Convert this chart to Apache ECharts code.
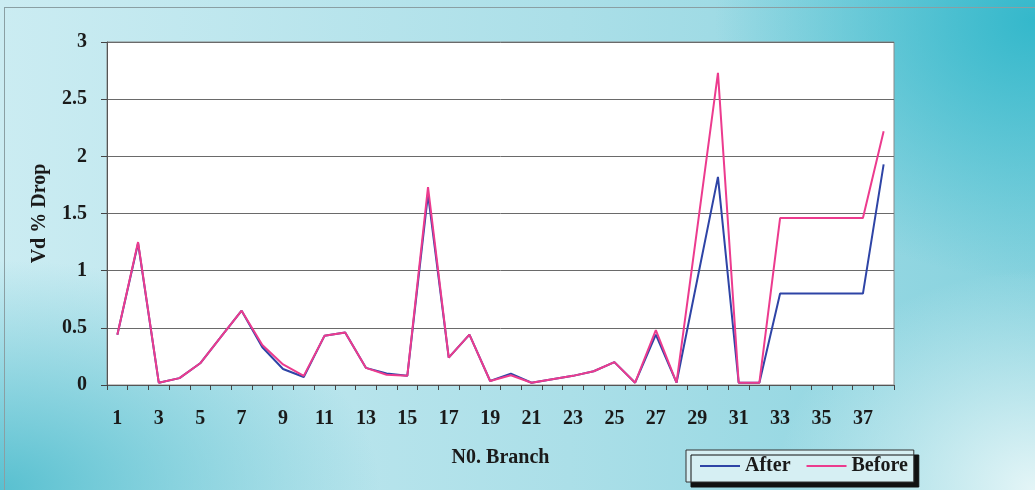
<!DOCTYPE html>
<html>
<head>
<meta charset="utf-8">
<script src="https://cdn.jsdelivr.net/npm/echarts@6/dist/echarts.min.js"></script>
<style>
  html, body { margin: 0; padding: 0; }
  body {
    width: 1035px; height: 490px; overflow: hidden; position: relative;
    background:
      radial-gradient(ellipse 320px 260px at 1035px 20px, rgba(52,184,203,1), rgba(52,184,203,0)),
      radial-gradient(ellipse 380px 230px at 0px 490px, rgba(88,192,208,1), rgba(88,192,208,0)),
      radial-gradient(ellipse 260px 220px at 1035px 490px, rgba(228,245,247,1), rgba(228,245,247,0)),
      linear-gradient(to right, #cbecf2 0%, #abdfe8 55%, #86d2de 100%);
  }
  #frame { position: absolute; left: 4px; top: 7px; width: 1040px; height: 500px; border: 1px solid #8a9fa3; box-sizing: border-box; }
  #chart { position: absolute; left: 0; top: 0; width: 1035px; height: 490px; }
</style>
</head>
<body>
<div id="frame"></div>
<div id="chart"></div>
<script>
const categories = ['1','2','3','4','5','6','7','8','9','10','11','12','13','14','15','16','17','18','19','20',
  '21','22','23','24','25','26','27','28','29','30','31','32','33','34','35','36','37','38'];
const afterValues = [0.44,1.24,0.02,0.06,0.19,0.42,0.65,0.33,0.14,0.07,0.43,0.46,0.15,0.10,0.08,1.67,0.24,0.44,0.035,0.10,
  0.02,0.05,0.08,0.12,0.20,0.02,0.44,0.02,0.92,1.82,0.02,0.02,0.80,0.80,0.80,0.80,0.80,1.93];
const beforeValues = [0.44,1.25,0.02,0.06,0.19,0.42,0.65,0.35,0.18,0.08,0.43,0.46,0.15,0.09,0.08,1.73,0.24,0.44,0.035,0.085,
  0.02,0.05,0.08,0.12,0.20,0.02,0.48,0.02,1.37,2.73,0.02,0.02,1.46,1.46,1.46,1.46,1.46,2.22];
const seriesNames = ['After', 'Before'];
const xAxisTitle = 'N0. Branch';
const yAxisTitle = 'Vd % Drop';

const font = "'Liberation Serif', 'Times New Roman', serif";
const chart = echarts.init(document.getElementById('chart'), null, { renderer: 'canvas' });
chart.setOption({
  backgroundColor: 'transparent',
  animation: false,
  grid: {
    left: 107, right: 141, top: 42, bottom: 105,
    show: true, backgroundColor: '#ffffff', borderColor: '#8a8a8a', borderWidth: 1
  },
  legend: {
    data: seriesNames,
    left: 686, top: 450,
    orient: 'horizontal',
    icon: 'rect',
    itemWidth: 40, itemHeight: 2, itemGap: 16,
    padding: [6, 6, 6, 14],
    backgroundColor: '#d6eff3',
    borderColor: '#333', borderWidth: 1,
    shadowColor: '#111', shadowBlur: 0, shadowOffsetX: 5, shadowOffsetY: 5,
    textStyle: { fontFamily: font, fontSize: 20, fontWeight: 'bold', color: '#1a1a1a' }
  },
  xAxis: {
    type: 'category',
    data: categories,
    boundaryGap: true,
    name: xAxisTitle,
    nameLocation: 'middle',
    nameGap: 63,
    nameTextStyle: { fontFamily: font, fontSize: 20, fontWeight: 'bold', color: '#1a1a1a' },
    axisLine: { lineStyle: { color: '#555', width: 1 } },
    axisTick: { show: true, interval: 0, length: 5, lineStyle: { color: '#444' } },
    axisLabel: { interval: 1, margin: 24, fontFamily: font, fontSize: 20, fontWeight: 'bold', color: '#1a1a1a' },
    splitLine: { show: false }
  },
  yAxis: {
    type: 'value',
    min: 0, max: 3, interval: 0.5,
    name: yAxisTitle,
    nameLocation: 'middle',
    nameRotate: 90,
    nameGap: 57,
    nameTextStyle: { fontFamily: font, fontSize: 20, fontWeight: 'bold', color: '#1a1a1a' },
    axisLine: { show: true, lineStyle: { color: '#555', width: 1 } },
    axisTick: { show: true, length: 6, lineStyle: { color: '#444' } },
    axisLabel: { margin: 20, fontFamily: font, fontSize: 20, fontWeight: 'bold', color: '#1a1a1a' },
    splitLine: { show: true, lineStyle: { color: '#6a6a6a', width: 1 } }
  },
  series: [
    {
      name: seriesNames[0], type: 'line', data: afterValues,
      symbol: 'none', lineStyle: { color: '#2e44a6', width: 2 }, itemStyle: { color: '#2e44a6' },
      z: 2
    },
    {
      name: seriesNames[1], type: 'line', data: beforeValues,
      symbol: 'none', lineStyle: { color: '#ec3b8e', width: 2 }, itemStyle: { color: '#ec3b8e' },
      z: 3
    }
  ]
});
</script>
</body>
</html>
